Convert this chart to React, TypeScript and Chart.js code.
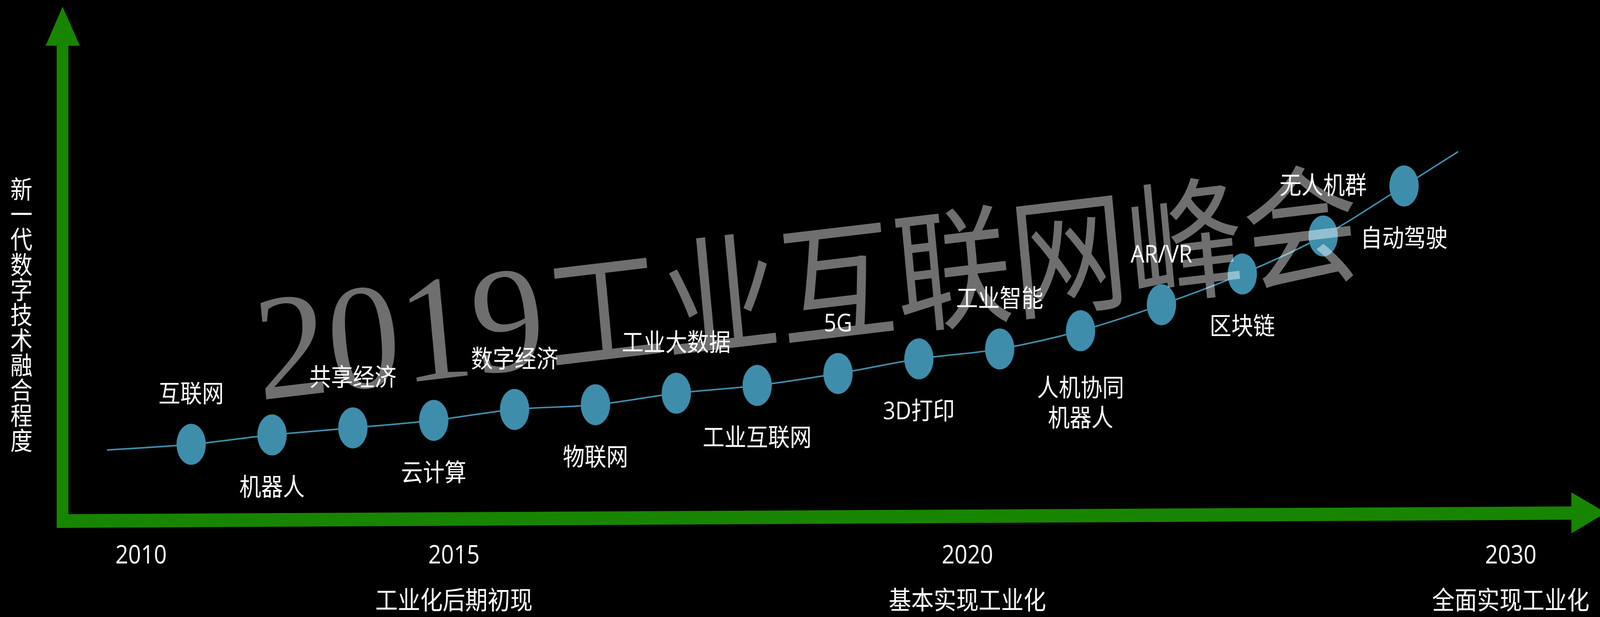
import React, { useEffect, useRef } from 'react';
import { Chart, registerables } from 'chart.js';

Chart.register(...registerables);

const W = 4629;
const H = 1579;

// ---- data ----
const techIndex = [1, 2, 3, 4, 5, 6, 7, 8, 9, 10, 11, 12, 13, 14, 15, 16];
const techLabels: (string | string[])[] = [
  '互联网', '机器人', '共享经济', '云计算', '数字经济', '物联网', '工业大数据', '工业互联网',
  '5G', '3D打印', '工业智能', ['人机协同', '机器人'], 'AR/VR', '区块链', '无人机群', '自动驾驶',
];
const fusionLevel = [14.7, 16.5, 17.85, 19.3, 21.4, 22.3, 24.5, 26.0, 28.3, 31.1, 33.0, 36.5, 41.5, 47.4, 54.7, 64.3];

const trendStartX = -0.04;
const trendStartY = 13.6;
const trendEndX = 16.67;
const trendEndY = 70.9;

const yearTickPos = [0.38, 4.25, 10.6, 17.32];
const yearLabels = ['2010', '2015', '2020', '2030'];
const phaseLabels = ['', '工业化后期初现', '基本实现工业化', '全面实现工业化'];

const yTitle = '新一代数字技术融合程度';
const watermarkYear = '2019';
const watermarkText = '工业互联网峰会';

const X_MIN = -1.364;
const X_MAX = 18.424;
const Y_MIN = 0;
const Y_MAX = 100;

// ---- styles ----
const GREEN = '#188500';
const BLUE = '#3e8eab';
const CJK = '"Noto Sans CJK SC", "Noto Sans", sans-serif';
const LATIN_CJK = '"Open Sans", "Noto Sans CJK SC", sans-serif';

function makeEllipse(): HTMLCanvasElement {
  const c = document.createElement('canvas');
  c.width = 86;
  c.height = 106;
  const g = c.getContext('2d')!;
  g.fillStyle = BLUE;
  g.beginPath();
  g.ellipse(43, 53, 42.5, 52.5, 0, 0, Math.PI * 2);
  g.fill();
  return c;
}

const decorPlugin = {
  id: 'decor',
  beforeDatasetsDraw(chart: any) {
    const ctx = chart.ctx as CanvasRenderingContext2D;
    const area = chart.chartArea;
    const axisY = area.bottom;
    ctx.save();
    ctx.fillStyle = GREEN;
    // vertical arrow
    ctx.beginPath();
    ctx.moveTo(164, axisY + 18);
    ctx.lineTo(164, 117);
    ctx.lineTo(132, 117);
    ctx.lineTo(181, 17);
    ctx.lineTo(231, 117);
    ctx.lineTo(198, 117);
    ctx.lineTo(198, axisY + 18);
    ctx.closePath();
    ctx.fill();
    // horizontal arrow (slightly rising)
    ctx.beginPath();
    ctx.moveTo(164, axisY - 17);
    ctx.lineTo(4546, axisY - 37);
    ctx.lineTo(4546, axisY - 73);
    ctx.lineTo(4646, axisY - 21);
    ctx.lineTo(4546, axisY + 32);
    ctx.lineTo(4546, axisY - 3);
    ctx.lineTo(164, axisY + 18);
    ctx.closePath();
    ctx.fill();

    // vertical (stacked) y-axis title
    ctx.fillStyle = '#ffffff';
    ctx.font = `64px ${CJK}`;
    ctx.textAlign = 'center';
    ctx.textBaseline = 'middle';
    const chars = Array.from(yTitle);
    const step = 64.3;
    const cy = 805;
    const y0 = cy - ((chars.length - 1) * step) / 2;
    chars.forEach((ch, i) => ctx.fillText(ch, 62, y0 + i * step));
    ctx.restore();
  },
  afterDatasetsDraw(chart: any) {
    const ctx = chart.ctx as CanvasRenderingContext2D;
    // watermark
    ctx.save();
    ctx.translate(752, 1024);
    ctx.rotate((-6 * Math.PI) / 180);
    ctx.fillStyle = 'rgba(255,255,255,0.435)';
    ctx.textBaseline = 'alphabetic';
    ctx.textAlign = 'left';
    ctx.font = `385px "Liberation Serif", serif`;
    const stretch = 1.09;
    ctx.save();
    ctx.scale(stretch, 1);
    ctx.fillText(watermarkYear, 0, 0);
    ctx.restore();
    ctx.font = `385px "Liberation Serif", serif`;
    const w = ctx.measureText(watermarkYear).width * stretch;
    ctx.font = `400 338px ${CJK}`;
    ctx.fillText(watermarkText, w + 6, 0);
    ctx.restore();

    // point labels
    const meta = chart.getDatasetMeta(0);
    ctx.save();
    ctx.fillStyle = '#ffffff';
    ctx.font = `63px ${LATIN_CJK}`;
    ctx.textAlign = 'center';
    ctx.textBaseline = 'middle';
    meta.data.forEach((pt: any, i: number) => {
      const lab = techLabels[i];
      const lines = Array.isArray(lab) ? lab : [lab];
      const above = i % 2 === 0;
      if (above) {
        lines.forEach((ln, k) => ctx.fillText(ln, pt.x, pt.y - 126 - (lines.length - 1 - k) * 77));
      } else {
        const first = lines.length > 1 ? 150 : 137;
        lines.forEach((ln, k) => ctx.fillText(ln, pt.x, pt.y + first + k * 77));
      }
    });
    ctx.restore();
  },
};

export default function App() {
  const ref = useRef<HTMLCanvasElement>(null);

  useEffect(() => {
    document.body.style.margin = '0';
    document.body.style.background = '#000';
    document.documentElement.style.overflow = 'hidden';
    const canvas = ref.current!;
    const ellipse = makeEllipse();
    const dots = techIndex.map((x, i) => ({ x, y: fusionLevel[i] }));
    const trend = [
      { x: trendStartX, y: trendStartY },
      ...dots,
      { x: trendEndX, y: trendEndY },
    ];

    const chart = new Chart(canvas, {
      type: 'scatter',
      data: {
        datasets: [
          {
            label: 'tech',
            data: dots,
            pointStyle: ellipse as any,
            pointRadius: 40,
            pointHoverRadius: 40,
            showLine: false,
            order: 0,
          },
          {
            label: 'trend',
            data: trend,
            showLine: true,
            borderColor: BLUE,
            borderWidth: 4,
            pointRadius: 0,
            pointHoverRadius: 0,
            cubicInterpolationMode: 'monotone',
            fill: false,
            order: 1,
          },
        ],
      },
      options: {
        animation: false,
        responsive: false,
        devicePixelRatio: 1,
        events: [],
        layout: { padding: 0, autoPadding: false },
        plugins: {
          legend: { display: false },
          tooltip: { enabled: false },
        },
        scales: {
          x: {
            type: 'linear',
            min: X_MIN,
            max: X_MAX,
            grid: { display: false },
            border: { display: false },
            afterBuildTicks: (axis: any) => {
              axis.ticks = yearTickPos.map((v) => ({ value: v }));
            },
            afterFit: (axis: any) => {
              axis.height = H - 1333;
            },
            ticks: {
              autoSkip: false,
              maxRotation: 0,
              minRotation: 0,
              padding: 24,
              color: '#ffffff',
              font: { family: LATIN_CJK, size: 65, lineHeight: '117px' },
              callback: (_v: any, idx: number) =>
                phaseLabels[idx] ? [yearLabels[idx], phaseLabels[idx]] : yearLabels[idx],
            },
          },
          y: {
            type: 'linear',
            display: false,
            min: Y_MIN,
            max: Y_MAX,
          },
        },
      },
      plugins: [decorPlugin],
    } as any);

    return () => chart.destroy();
  }, []);

  return (
    <div style={{ position: 'fixed', left: 0, top: 0, width: '100vw', height: '100vh', background: '#000', overflow: 'hidden' }}>
      <canvas ref={ref} width={W} height={H} style={{ display: 'block', width: '100vw', height: '100vh' }} />
    </div>
  );
}
